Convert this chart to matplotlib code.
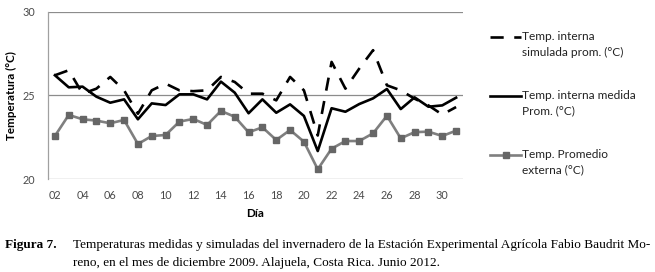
import numpy as np
import matplotlib
matplotlib.use('Agg')
import matplotlib.pyplot as plt
from matplotlib.lines import Line2D

# datos (dic 2009)
dias = list(range(2, 32))
simulada = [26.2, 26.5, 25.1, 25.4, 26.1, 25.3, 23.9, 25.3, 25.7, 25.3,
            25.25, 25.3, 26.1, 25.8, 25.1, 25.1, 24.7, 26.1, 25.3, 22.6,
            27.0, 25.4, 26.6, 27.7, 25.6, 25.3, 24.8, 24.4, 23.85, 24.3]
medida = [26.2, 25.48, 25.52, 24.92, 24.56, 24.76, 23.57, 24.52, 24.42, 25.06,
          25.06, 24.76, 25.82, 25.16, 23.93, 24.76, 23.96, 24.46, 23.77, 21.67,
          24.23, 24.02, 24.48, 24.82, 25.38, 24.18, 24.88, 24.32, 24.4, 24.86]
externa = [22.57, 23.83, 23.57, 23.49, 23.33, 23.53, 22.09, 22.57, 22.63, 23.43,
           23.59, 23.23, 24.07, 23.72, 22.79, 23.09, 22.33, 22.93, 22.23, 20.58,
           21.81, 22.27, 22.27, 22.73, 23.78, 22.43, 22.8, 22.83, 22.57, 22.89]
xticks = list(range(2, 31, 2))
xticklabels = ['%02d' % d for d in xticks]
etiquetas = ['Temp. interna\nsimulada prom. (°C)',
             'Temp. interna medida\nProm. (°C)',
             'Temp. Promedio\nexterna (°C)']

plt.rcParams['font.family'] = ['Lato', 'DejaVu Sans']

fig = plt.figure(figsize=(6.55, 2.72), dpi=100)
ax = fig.add_axes([48/655, 1 - 179/272, 415/655, 167.3/272])

gris = '#7f7f7f'
ax.plot(dias, simulada, color='black', lw=1.9, dashes=(5, 4))
ax.plot(dias, medida, color='black', lw=1.9)
ax.plot(dias, externa, color=gris, lw=1.9, marker='s', markersize=4.2,
        markerfacecolor='#666666', markeredgecolor='#666666')

ax.set_xlim(1.5, 31.5)
ax.set_ylim(20, 30)
ax.set_yticks([20, 25, 30])
ax.set_xticks(xticks)
ax.set_xticklabels(xticklabels)
ax.yaxis.grid(True, color='#8c8c8c', lw=0.9)
ax.set_axisbelow(True)
for s in ['top', 'right', 'bottom']:
    ax.spines[s].set_visible(False)
ax.spines['left'].set_color('#a0a0a0')
ax.spines['left'].set_linewidth(0.9)
ax.tick_params(length=0, labelsize=7.8, colors='#4a4a4a', pad=8)
ax.tick_params(axis='y', pad=9)
ax.set_ylabel('Temperatura (°C)', fontsize=8.4, fontweight='bold', labelpad=4)
ax.set_xlabel('Día', fontsize=8.4, fontweight='bold', labelpad=5)

# leyenda manual a la derecha
estilos = [dict(color='black', lw=1.9, dashes=(5, 4)),
           dict(color='black', lw=1.9),
           dict(color=gris, lw=1.9, marker='s', markersize=4,
                markevery=[1], markerfacecolor='#666666', markeredgecolor='#666666')]
y0 = [37, 96, 155]
for etiqueta, est, yy in zip(etiquetas, estilos, y0):
    yf = 1 - yy / 272
    fig.add_artist(Line2D([490/655, 0.5 * (490 + 521)/655, 521/655], [yf, yf, yf],
                          transform=fig.transFigure, **est))
    fig.text(522/655, yf + 6/272, etiqueta, fontsize=8.6, va='top', ha='left',
             linespacing=1.5, color='#222222')

# pie de figura
fig.text(5/655, 1 - 245/272, 'Figura 7.', family='Liberation Serif',
         fontweight='bold', fontsize=9.5, va='center')
fig.text(73/655, 1 - 245/272,
         'Temperaturas medidas y simuladas del invernadero de la Estación '
         'Experimental Agrícola Fabio Baudrit Mo-', family='Liberation Serif',
         fontsize=9.5, va='center')
fig.text(73/655, 1 - 263/272,
         'reno, en el mes de diciembre 2009. Alajuela, Costa Rica. Junio 2012.',
         family='Liberation Serif', fontsize=9.5, va='center')

fig.savefig('out.png', dpi=100)
